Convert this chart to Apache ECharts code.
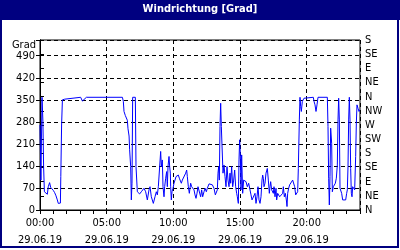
<!DOCTYPE html>
<html><head><meta charset="utf-8">
<script src="https://cdn.jsdelivr.net/npm/echarts@6/dist/echarts.min.js"></script>
<style>html,body{margin:0;padding:0;background:#fff}#c{width:400px;height:250px}</style>
</head><body><div id="c"></div>
<script>
const chartTitle = 'Windrichtung [Grad]';
const yName = 'Grad';
const dateLabel = '29.06.19';
const compassLabels = ['N','NE','E','SE','S','SW','W','NW','N','NE','E','SE','S'];
const hours = [
0.00,0.07,0.15,0.22,0.27,0.33,0.45,0.55,0.62,0.72,0.80,0.90,1.00,1.10,1.20,1.30,1.37,1.45,1.53,1.56,1.62,1.68,1.85,2.00,3.05,3.18,3.30,3.48,6.18,6.25,6.30,6.40,6.55,6.60,6.68,6.72,6.80,6.85,6.90,6.95,7.15,7.20,7.30,7.47,7.60,7.70,
7.80,7.925,8.05,8.175,8.25,8.35,8.50,8.625,8.725,8.80,8.875,8.975,9.05,9.10,9.175,9.225,9.30,9.35,9.425,9.50,9.55,9.60,9.675,9.725,9.775,9.80,9.85,9.90,9.975,
10.05,10.125,10.20,10.30,10.375,10.45,10.525,10.60,10.675,10.80,10.925,11.00,11.05,11.125,11.20,11.30,11.375,11.45,11.55,11.625,11.70,11.775,11.85,11.925,
12.05,12.125,12.20,12.30,12.375,12.475,12.55,12.675,12.80,12.925,13.05,13.15,13.25,13.30,13.35,13.40,13.45,13.50,13.55,13.60,13.675,13.725,13.80,13.875,13.95,
14.025,14.10,14.175,14.25,14.30,14.375,14.45,14.525,14.60,14.675,14.75,14.80,14.875,14.925,14.975,15.025,15.075,15.125,15.20,15.275,15.35,15.45,15.55,15.65,15.75,15.825,15.90,
16.05,16.125,16.20,16.275,16.35,16.425,16.50,16.575,16.65,16.70,16.75,16.80,16.875,16.95,17.00,17.05,17.125,17.20,17.25,17.30,17.375,17.45,17.50,17.55,17.625,17.70,17.75,17.825,17.90,17.975,
18.05,18.125,18.20,18.25,18.325,18.40,18.475,18.525,18.575,18.65,18.725,18.80,18.875,18.95,19.025,19.10,19.175,19.25,19.325,19.375,19.45,19.50,19.55,19.60,19.675,19.75,19.80,19.85,
20.50,20.55,20.625,20.70,20.775,20.85,21.55,21.60,21.65,21.70,21.75,21.80,21.875,21.925,22.00,22.075,22.15,22.225,22.30,22.35,22.40,22.45,22.50,22.55,22.625,22.70,22.775,22.85,22.925,
23.00,23.05,23.10,23.15,23.20,23.25,23.30,23.35,23.40,23.45,23.525,23.60,23.675,23.725,23.775,23.85,23.925,23.975
];
const degrees = [
270,95,358,280,138,58,55,50,74,87,72,68,62,55,45,32,21,22,22,106,270,350,352,358,358,346,350,358,358,345,313,300,285,258,235,193,138,32,85,358,358,138,58,51,58,64,
69,58,32,64,74,42,21,42,58,48,74,138,186,138,159,74,42,74,101,122,74,138,170,138,117,74,32,58,69,
85,95,106,101,111,101,106,85,95,101,117,127,106,74,53,85,74,69,64,48,37,53,74,69,
42,64,42,58,69,58,69,83,85,80,69,48,42,64,117,138,95,265,339,265,260,117,143,106,74,
138,95,74,117,85,138,74,95,127,74,53,42,21,159,223,175,64,175,53,95,95,90,74,85,90,48,32,
37,53,21,42,74,32,21,42,95,111,101,74,85,117,122,132,95,53,74,90,64,69,53,74,42,69,32,53,48,42,
48,42,53,74,42,53,32,11,53,69,80,80,85,95,90,74,48,53,58,132,286,358,329,313,345,345,355,358,
358,345,334,313,334,358,358,265,101,16,106,260,212,58,74,69,85,101,143,286,355,286,69,64,53,32,27,30,32,
53,64,138,286,358,286,132,53,42,74,69,64,170,276,334,323,313,318
];
const seriesData = hours.map((h, i) => [h, degrees[i]]);
const FONT = '"Liberation Sans Narrow", "DejaVu Sans Condensed", "DejaVu Sans", sans-serif';
const pad = n => (n < 10 ? '0' : '') + n;

const chart = echarts.init(document.getElementById('c'), null, {renderer: 'canvas'});
chart.setOption({
  animation: false,
  backgroundColor: '#ffffff',
  textStyle: {fontFamily: FONT, fontSize: 11, color: '#000'},
  grid: {left: 40, right: 40, top: 40, bottom: 40, show: true, borderColor: '#000', borderWidth: 1, backgroundColor: 'transparent'},
  graphic: [
    {type: 'rect', shape: {x: 0, y: 0, width: 400, height: 20}, style: {fill: '#000080'}, z: 10},
    {type: 'rect', shape: {x: 1, y: 1, width: 397, height: 246}, style: {fill: 'none', stroke: '#000080', lineWidth: 2}, z: 10},
    {type: 'text', x: 200, y: 9, style: {text: chartTitle, fill: '#fff', font: 'bold 11px ' + FONT, align: 'center', verticalAlign: 'middle'}, z: 11},
    {type: 'text', x: 36, y: 45, style: {text: yName, fill: '#000', font: '11px ' + FONT, align: 'right', verticalAlign: 'middle'}, z: 11}
  ],
  xAxis: [
    {
      type: 'value', min: 0, max: 24, interval: 5,
      axisLine: {show: true, lineStyle: {color: '#000', width: 1}},
      axisTick: {show: true, length: 4, lineStyle: {color: '#000'}},
      axisLabel: {
        color: '#000', fontFamily: FONT, fontSize: 11, margin: 5, lineHeight: 17,
        formatter: v => (v % 5 === 0 && v < 24) ? pad(v) + ':00\n' + dateLabel : ''
      },
      splitLine: {show: true, lineStyle: {color: '#000', type: [4, 3], width: 1}}
    },
    {
      type: 'value', min: 0, max: 24, interval: 1, position: 'bottom',
      axisLine: {show: false},
      axisTick: {show: true, length: 4, lineStyle: {color: '#000'}},
      axisLabel: {show: false},
      splitLine: {show: false}
    }
  ],
  yAxis: [
    {
      type: 'value', min: 0, max: 540, interval: 70, position: 'left',
      axisLine: {show: true, lineStyle: {color: '#000'}},
      axisTick: {show: true, length: 4, lineStyle: {color: '#000'}},
      axisLabel: {color: '#000', fontFamily: FONT, fontSize: 11, margin: 5, formatter: v => v <= 490 ? String(v) : ''},
      splitLine: {show: true, lineStyle: {color: '#000', type: [4, 3], width: 1}}
    },
    {
      type: 'value', min: 0, max: 540, interval: 45, position: 'right',
      axisLine: {show: true, lineStyle: {color: '#000'}},
      axisTick: {show: true, length: 4, lineStyle: {color: '#000'}},
      axisLabel: {color: '#000', fontFamily: FONT, fontSize: 11, margin: 5, formatter: v => compassLabels[Math.round(v / 45)] || ''},
      splitLine: {show: false}
    }
  ],
  series: [{
    type: 'line', xAxisIndex: 0, yAxisIndex: 0, data: seriesData,
    showSymbol: false, symbol: 'none', smooth: false,
    lineStyle: {color: '#0000ff', width: 1},
    z: 5
  }]
});
</script></body></html>
